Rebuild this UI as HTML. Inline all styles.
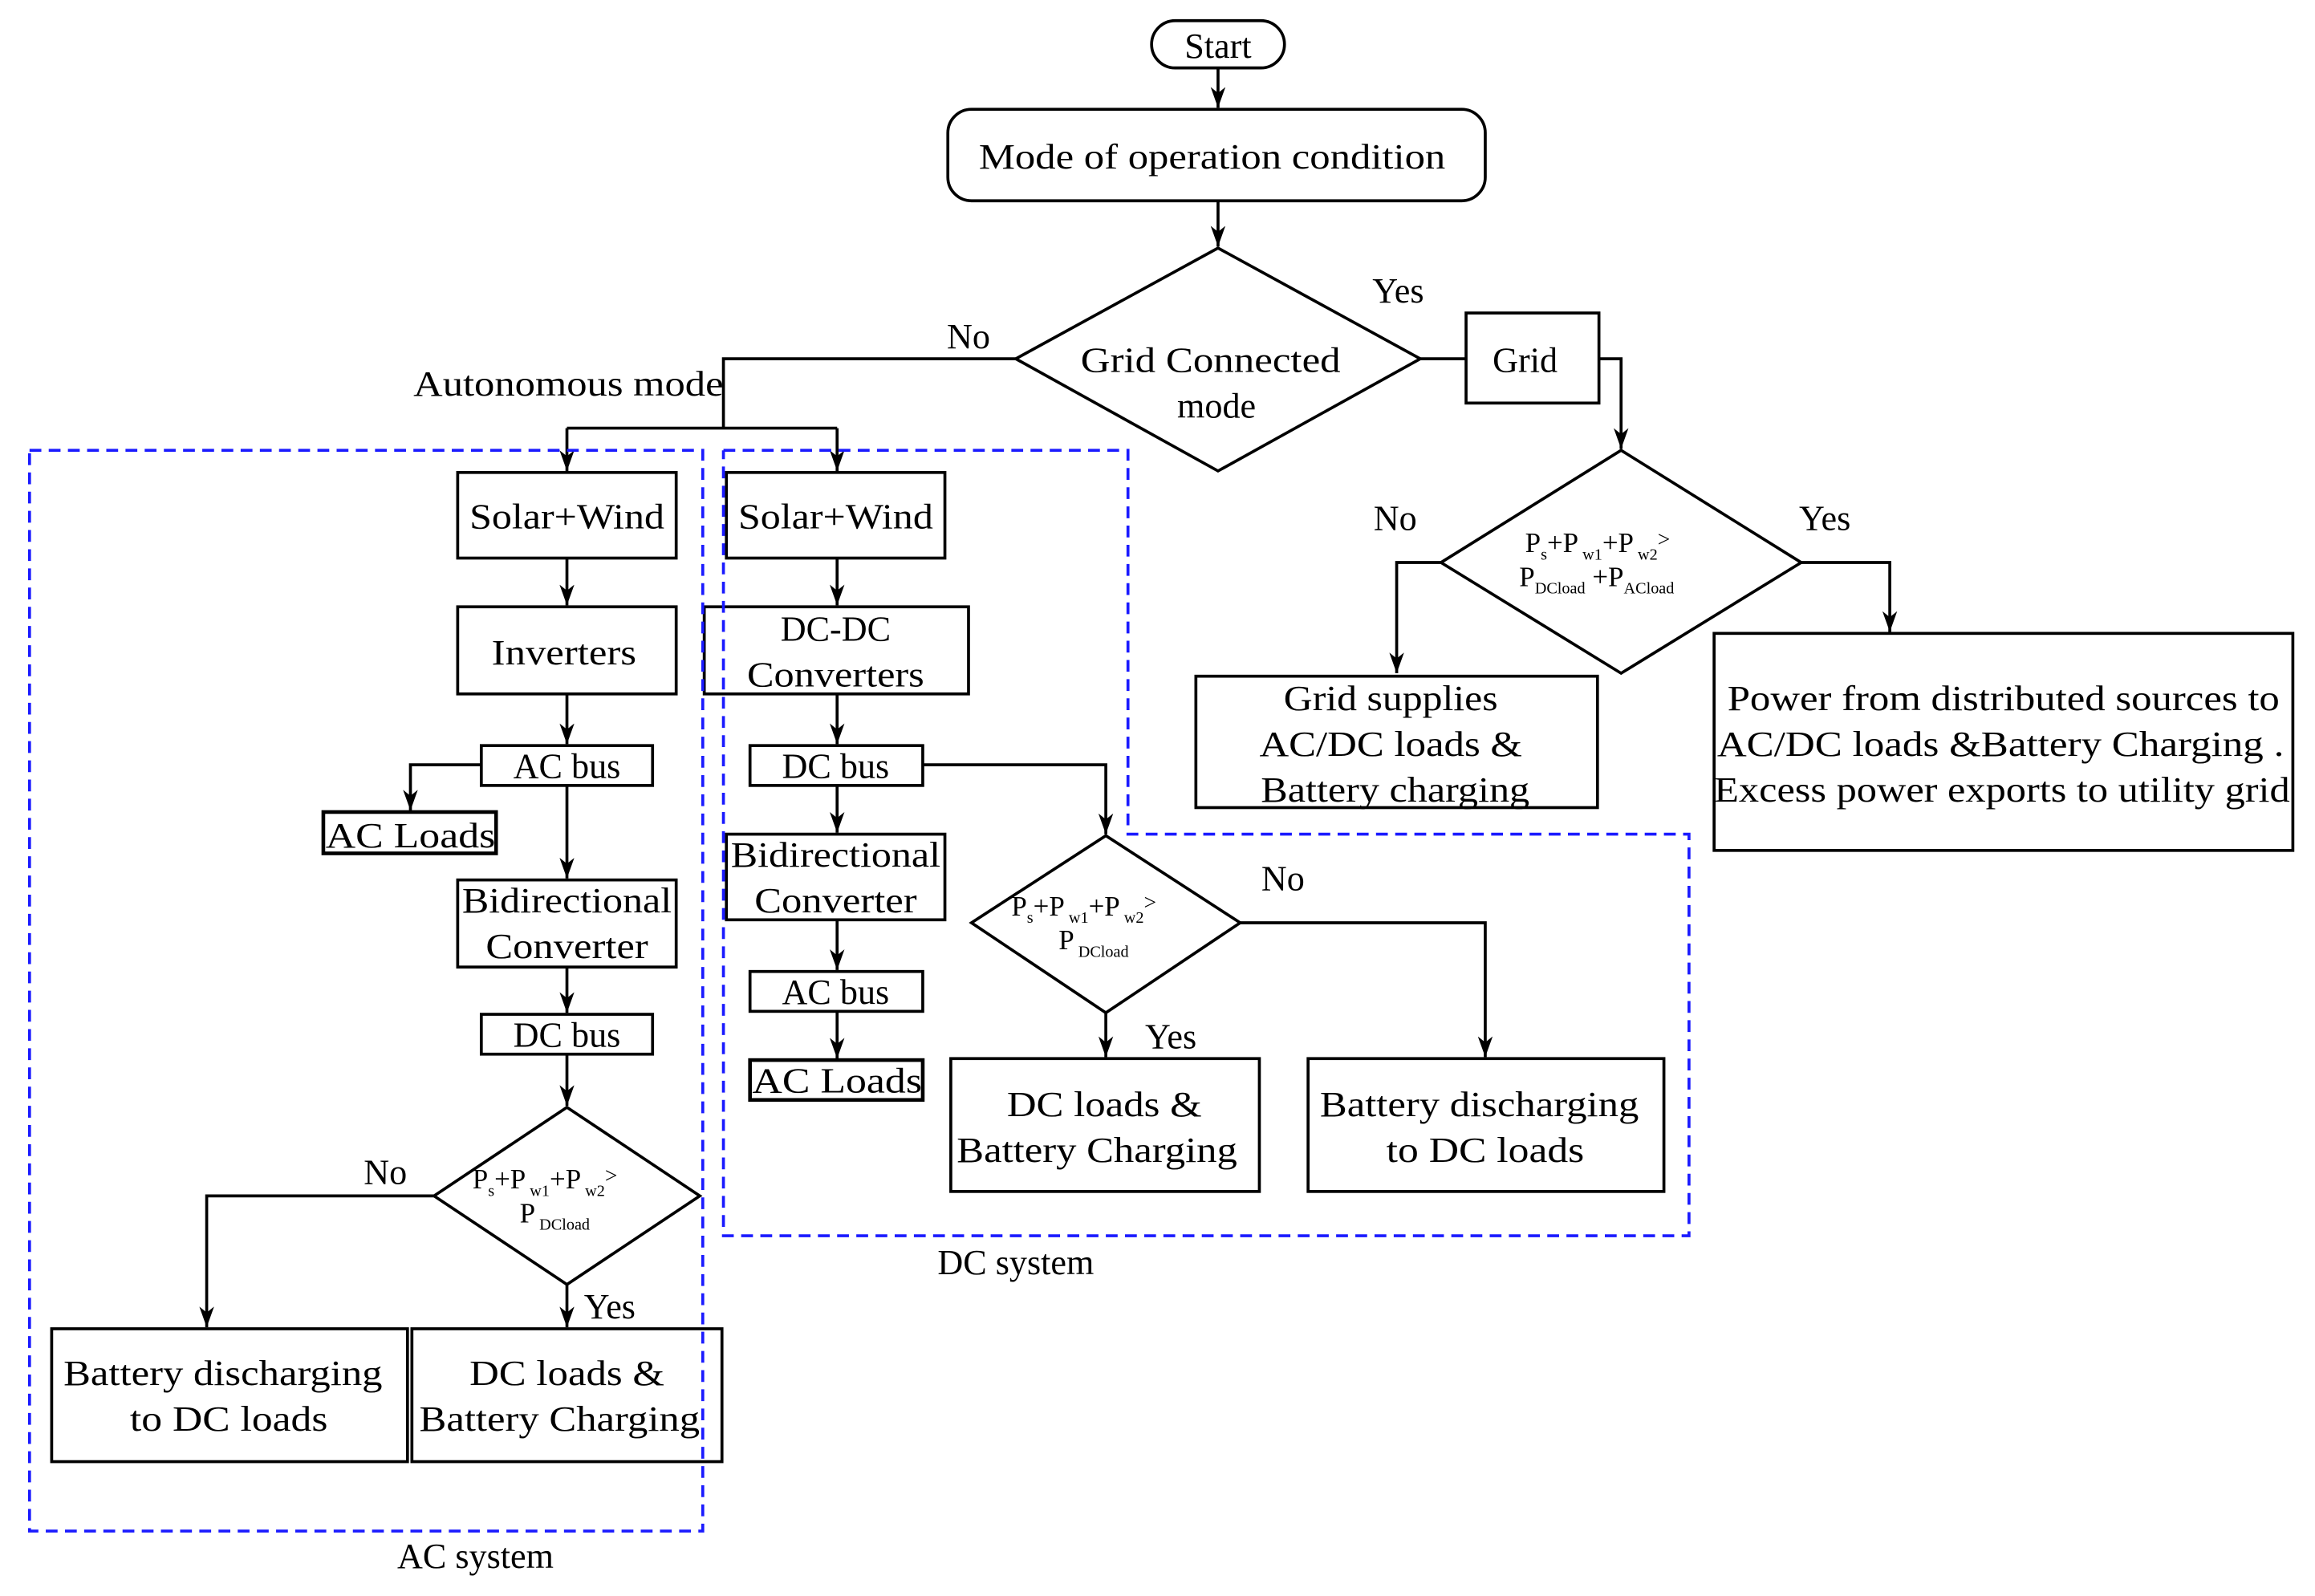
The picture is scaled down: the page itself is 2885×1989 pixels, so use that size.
<!DOCTYPE html>
<html><head><meta charset="utf-8"><style>
html,body{margin:0;padding:0;background:#fff;}
svg{display:block;}
text{font-family:"Liberation Serif",serif;fill:#000;}
</style></head><body>
<svg width="2885" height="1989" viewBox="0 0 1568 1081" preserveAspectRatio="none" xmlns="http://www.w3.org/2000/svg">
<defs>
<marker id="a" markerWidth="14" markerHeight="10" refX="14" refY="5" orient="auto" markerUnits="userSpaceOnUse" viewBox="0 0 14 10">
<path d="M0,0 L14,5 L0,10 L4,5 Z" fill="#000"/>
</marker>
</defs>
<g fill="none" stroke="#000" stroke-width="2">
<rect x="780" y="14" width="90" height="32" rx="16"/>
<rect x="642" y="74" width="364" height="62" rx="16"/>
<polygon points="825,168 962,243 825,319 688,243"/>
<rect x="993" y="212" width="90" height="61"/>
<polygon points="1098,305 1220,381 1098,456 976,381"/>
<rect x="810" y="458" width="272" height="89"/>
<rect x="1161" y="429" width="392" height="147"/>
<rect x="310" y="320" width="148" height="58"/>
<rect x="310" y="411" width="148" height="59"/>
<rect x="326" y="505" width="116" height="27"/>
<rect x="219" y="550" width="117" height="28" stroke-width="2.5"/>
<rect x="310" y="596" width="148" height="59"/>
<rect x="326" y="687" width="116" height="27"/>
<polygon points="384,750 474,810 384,870 294,810"/>
<rect x="35" y="900" width="241" height="90"/>
<rect x="279" y="900" width="210" height="90"/>
<rect x="492" y="320" width="148" height="58"/>
<rect x="477" y="411" width="179" height="59"/>
<rect x="508" y="505" width="117" height="27"/>
<rect x="492" y="565" width="148" height="58"/>
<rect x="508" y="658" width="117" height="27"/>
<rect x="508" y="718" width="117" height="27" stroke-width="2.5"/>
<polygon points="749,566 840,625 749,686 658,625"/>
<rect x="644" y="717" width="209" height="90"/>
<rect x="886" y="717" width="241" height="90"/>
<line x1="825" y1="46" x2="825" y2="73" marker-end="url(#a)"/>
<line x1="825" y1="136" x2="825" y2="167" marker-end="url(#a)"/>
<line x1="962" y1="243" x2="993" y2="243"/>
<polyline points="1083,243 1098,243 1098,304" marker-end="url(#a)"/>
<polyline points="976,381 946,381 946,456" marker-end="url(#a)"/>
<polyline points="1220,381 1280,381 1280,428" marker-end="url(#a)"/>
<polyline points="688,243 490,243 490,290"/>
<line x1="384" y1="290" x2="567" y2="290"/>
<line x1="384" y1="290" x2="384" y2="319" marker-end="url(#a)"/>
<line x1="567" y1="290" x2="567" y2="319" marker-end="url(#a)"/>
<line x1="384" y1="378" x2="384" y2="410" marker-end="url(#a)"/>
<line x1="384" y1="470" x2="384" y2="504" marker-end="url(#a)"/>
<polyline points="326,518 278,518 278,549" marker-end="url(#a)"/>
<line x1="384" y1="532" x2="384" y2="595" marker-end="url(#a)"/>
<line x1="384" y1="655" x2="384" y2="686" marker-end="url(#a)"/>
<line x1="384" y1="714" x2="384" y2="749" marker-end="url(#a)"/>
<polyline points="294,810 140,810 140,899" marker-end="url(#a)"/>
<line x1="384" y1="870" x2="384" y2="899" marker-end="url(#a)"/>
<line x1="567" y1="378" x2="567" y2="410" marker-end="url(#a)"/>
<line x1="567" y1="470" x2="567" y2="504" marker-end="url(#a)"/>
<polyline points="625,518 749,518 749,565" marker-end="url(#a)"/>
<line x1="567" y1="532" x2="567" y2="564" marker-end="url(#a)"/>
<line x1="567" y1="623" x2="567" y2="657" marker-end="url(#a)"/>
<line x1="567" y1="685" x2="567" y2="717" marker-end="url(#a)"/>
<polyline points="840,625 1006,625 1006,716" marker-end="url(#a)"/>
<line x1="749" y1="686" x2="749" y2="716" marker-end="url(#a)"/>
</g>
<g fill="none" stroke="#1a1aff" stroke-width="2" stroke-dasharray="8,5">
<rect x="20" y="305" width="456" height="732"/>
<polyline points="490,305 764,305 764,565 1144,565 1144,837 490,837 490,305"/>
</g>
<g font-size="24" text-anchor="middle">
<text x="825" y="39">Start</text>
<text x="821" y="114" textLength="316" lengthAdjust="spacingAndGlyphs">Mode of operation condition</text>
<text x="820" y="252" textLength="176" lengthAdjust="spacingAndGlyphs">Grid Connected</text>
<text x="824" y="283">mode</text>
<text x="947" y="205">Yes</text>
<text x="656" y="236">No</text>
<text x="1033" y="252">Grid</text>
<text x="385" y="268" textLength="210" lengthAdjust="spacingAndGlyphs">Autonomous mode</text>
<text x="945" y="359">No</text>
<text x="1236" y="359">Yes</text>
<text x="942" y="481" textLength="145" lengthAdjust="spacingAndGlyphs">Grid supplies</text>
<text x="942" y="512" textLength="178" lengthAdjust="spacingAndGlyphs">AC/DC loads &amp;</text>
<text x="945" y="543" textLength="182" lengthAdjust="spacingAndGlyphs">Battery charging</text>
<text x="1357" y="481" textLength="374" lengthAdjust="spacingAndGlyphs">Power from distributed sources to</text>
<text x="1355" y="512" textLength="384" lengthAdjust="spacingAndGlyphs">AC/DC loads &amp;Battery Charging .</text>
<text x="1356" y="543" textLength="390" lengthAdjust="spacingAndGlyphs">Excess power exports to utility grid</text>
<text x="384" y="358" textLength="132" lengthAdjust="spacingAndGlyphs">Solar+Wind</text>
<text x="382" y="450" textLength="98" lengthAdjust="spacingAndGlyphs">Inverters</text>
<text x="384" y="527">AC bus</text>
<text x="278" y="574" textLength="115" lengthAdjust="spacingAndGlyphs">AC Loads</text>
<text x="384" y="618" textLength="142" lengthAdjust="spacingAndGlyphs">Bidirectional</text>
<text x="384" y="649" textLength="110" lengthAdjust="spacingAndGlyphs">Converter</text>
<text x="384" y="709">DC bus</text>
<text x="261" y="802">No</text>
<text x="413" y="893">Yes</text>
<text x="151" y="938" textLength="216" lengthAdjust="spacingAndGlyphs">Battery discharging</text>
<text x="155" y="969" textLength="134" lengthAdjust="spacingAndGlyphs">to DC loads</text>
<text x="384" y="938" textLength="132" lengthAdjust="spacingAndGlyphs">DC loads &amp;</text>
<text x="379" y="969" textLength="190" lengthAdjust="spacingAndGlyphs">Battery Charging</text>
<text x="322" y="1062">AC system</text>
<text x="566" y="358" textLength="132" lengthAdjust="spacingAndGlyphs">Solar+Wind</text>
<text x="566" y="434">DC-DC</text>
<text x="566" y="465" textLength="120" lengthAdjust="spacingAndGlyphs">Converters</text>
<text x="566" y="527">DC bus</text>
<text x="566" y="587" textLength="142" lengthAdjust="spacingAndGlyphs">Bidirectional</text>
<text x="566" y="618" textLength="110" lengthAdjust="spacingAndGlyphs">Converter</text>
<text x="566" y="680">AC bus</text>
<text x="567" y="740" textLength="115" lengthAdjust="spacingAndGlyphs">AC Loads</text>
<text x="869" y="603">No</text>
<text x="793" y="710">Yes</text>
<text x="748" y="756" textLength="132" lengthAdjust="spacingAndGlyphs">DC loads &amp;</text>
<text x="743" y="787" textLength="190" lengthAdjust="spacingAndGlyphs">Battery Charging</text>
<text x="1002" y="756" textLength="216" lengthAdjust="spacingAndGlyphs">Battery discharging</text>
<text x="1006" y="787" textLength="134" lengthAdjust="spacingAndGlyphs">to DC loads</text>
<text x="688" y="863">DC system</text>
</g>
<g font-size="19">
<text x="1033" y="374">P<tspan font-size="11" dy="5">s</tspan><tspan dy="-5">+P</tspan><tspan font-size="11" dy="5"> w1</tspan><tspan dy="-5">+P</tspan><tspan font-size="11" dy="5"> w2</tspan><tspan dy="-9" font-size="15">&gt;</tspan></text>
<text x="1029" y="397">P<tspan font-size="11" dy="5">DCload</tspan><tspan dy="-5"> +P</tspan><tspan font-size="11" dy="5">ACload</tspan></text>
<text x="320" y="805">P<tspan font-size="11" dy="5">s</tspan><tspan dy="-5">+P</tspan><tspan font-size="11" dy="5"> w1</tspan><tspan dy="-5">+P</tspan><tspan font-size="11" dy="5"> w2</tspan><tspan dy="-9" font-size="15">&gt;</tspan></text>
<text x="352" y="828">P<tspan font-size="11" dy="5"> DCload</tspan></text>
<text x="685" y="620">P<tspan font-size="11" dy="5">s</tspan><tspan dy="-5">+P</tspan><tspan font-size="11" dy="5"> w1</tspan><tspan dy="-5">+P</tspan><tspan font-size="11" dy="5"> w2</tspan><tspan dy="-9" font-size="15">&gt;</tspan></text>
<text x="717" y="643">P<tspan font-size="11" dy="5"> DCload</tspan></text>
</g>
</svg>
</body></html>
